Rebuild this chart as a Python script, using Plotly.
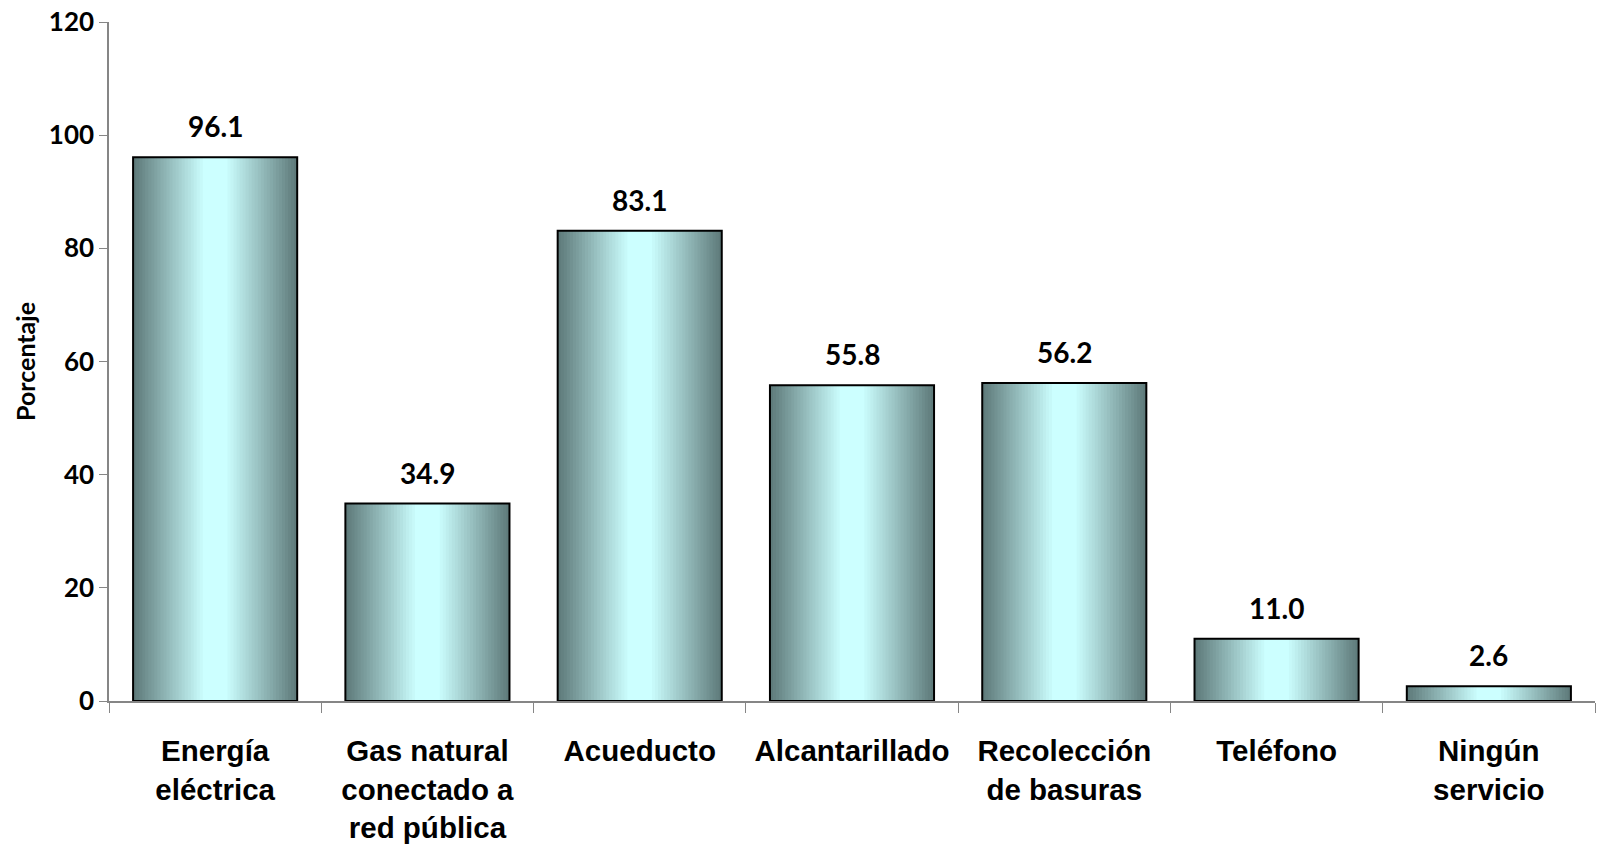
import plotly.graph_objects as go

# Data
categories = ["Energía<br>eléctrica", "Gas natural<br>conectado a<br>red pública", "Acueducto",
              "Alcantarillado", "Recolección<br>de basuras", "Teléfono", "Ningún<br>servicio"]
porcentajes = [96.1, 34.9, 83.1, 55.8, 56.2, 11.0, 2.6]
y_ticks = [0, 20, 40, 60, 80, 100, 120]

# Style
EDGE = (95, 123, 123)
CENTER = (204, 255, 255)
BAR_WIDTH = 0.773
N_LAYERS = 24
AXIS_GRAY = '#868686'

fig = go.Figure()

# horizontal gradient faked with overlaid bars of decreasing width
for k in range(N_LAYERS):
    t = k / (N_LAYERS - 1)
    rgb = tuple(round(e + (c - e) * t) for e, c in zip(EDGE, CENTER))
    fig.add_trace(go.Bar(
        x=categories, y=porcentajes,
        width=BAR_WIDTH * (1 - 0.85 * t),
        marker=dict(color='rgb(%d,%d,%d)' % rgb, line=dict(width=0)),
        hoverinfo='skip', showlegend=False
    ))

# outline on top
fig.add_trace(go.Bar(
    x=categories, y=porcentajes, width=BAR_WIDTH,
    marker=dict(color='rgba(0,0,0,0)', line=dict(color='black', width=2)),
    showlegend=False
))

for cat, val in zip(categories, porcentajes):
    fig.add_annotation(
        x=cat, y=val, text=f"{val:.1f}", showarrow=False,
        yanchor='bottom', yshift=12,
        font=dict(family='Lato', size=28, color='black', weight='bold')
    )

fig.update_layout(
    width=1598, height=849,
    margin=dict(l=109, r=3, t=22, b=148),
    barmode='overlay',
    plot_bgcolor='white', paper_bgcolor='white',
    xaxis=dict(
        showline=True, linecolor=AXIS_GRAY, linewidth=1.5,
        ticks='outside', tickson='boundaries', ticklen=10, tickcolor=AXIS_GRAY,
        tickfont=dict(family='Liberation Sans', size=29.5, color='black', weight='bold'),
        ticklabelstandoff=23, showgrid=False, automargin=False
    ),
    yaxis=dict(
        range=[0, 120], tickvals=y_ticks,
        showline=True, linecolor=AXIS_GRAY, linewidth=1.5,
        ticks='outside', ticklen=8, tickcolor=AXIS_GRAY,
        tickfont=dict(family='Lato', size=26, color='black', weight='bold'),
        ticklabeloverflow='allow', automargin=False,
        showgrid=False, zeroline=False,
        title=dict(text='Porcentaje', standoff=6,
                   font=dict(family='Lato', size=25, color='black', weight='bold'))
    )
)

# drop the default page margin so the figure sits at the window's corner
fig.write_html("out.html", config={'displayModeBar': False},
               post_script="document.body.style.margin = '0';")
